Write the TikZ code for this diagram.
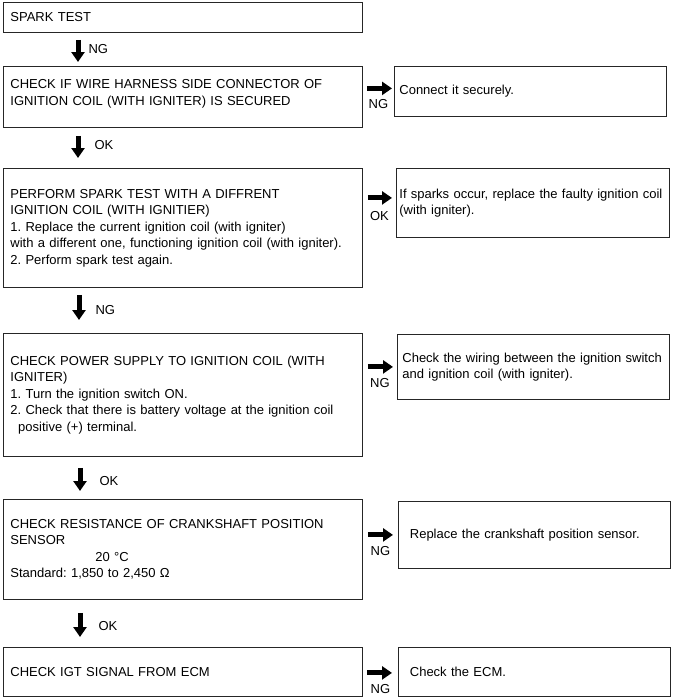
\documentclass[tikz,border=0pt]{standalone}
\usepackage{fontspec}
\setmainfont{Liberation Sans}
\usetikzlibrary{arrows.meta}
\usetikzlibrary{positioning}
\frenchspacing

\begin{document}
\begin{tikzpicture}[x=1pt, y=-1pt,
        stepbox/.style={draw=black!85, line width=0.8pt, anchor=north west, inner ysep=0pt, align=left, font=\fontsize{13}{16.5}\selectfont},
        leftbox/.style={stepbox, inner xsep=7pt, text width=345pt, minimum width=359pt},
        rightbox/.style={stepbox, inner xsep=5pt, text width=262pt, minimum width=272pt},
        blockarrow/.style={line width=5pt, -{Triangle[length=10pt, width=13pt]}},
        steplabel/.style={inner sep=0pt, font=\fontsize{13}{15.5}\selectfont}]
        \useasboundingbox (0,0) rectangle (673,697);
        % left column
        \node[leftbox, minimum height=30pt] (spark) at (3,2) {SPARK TEST};
        \node[leftbox, minimum height=61pt] (harness) at (3,66) {CHECK IF WIRE HARNESS SIDE CONNECTOR OF\\IGNITION COIL (WITH IGNITER) IS SECURED\\[-8pt]\mbox{}};
        \node[leftbox, minimum height=119pt] (swap) at (3,168) {PERFORM SPARK TEST WITH A DIFFRENT\\IGNITION COIL (WITH IGNITIER)\\1. Replace the current ignition coil (with igniter)\\with a different one, functioning ignition coil (with igniter).\\2. Perform spark test again.};
        \node[leftbox, minimum height=123pt] (power) at (3,333) {CHECK POWER SUPPLY TO IGNITION COIL (WITH\\IGNITER)\\1. Turn the ignition switch ON.\\2. Check that there is battery voltage at the ignition coil\\\hspace*{0.6em}positive (+) terminal.};
        \node[leftbox, minimum height=100pt] (ckp) at (3,499) {CHECK RESISTANCE OF CRANKSHAFT POSITION\\SENSOR\\\hspace*{85pt}20 °C\\Standard: 1,850 to 2,450 Ω};
        \node[leftbox, minimum height=49pt] (igt) at (3,647) {CHECK IGT SIGNAL FROM ECM};
        % right column
        \node[rightbox, minimum height=50pt] (harnessfix) at (394,66) {Connect it securely.};
        \node[rightbox, minimum height=69pt, minimum width=273pt, inner xsep=3pt, text width=267pt] (swapfix) at (396,168) {If sparks occur, replace the faulty ignition coil\\(with igniter).};
        \node[rightbox, minimum height=65pt] (powerfix) at (397,334) {Check the wiring between the ignition switch\\and ignition coil (with igniter).};
        \node[rightbox, minimum height=67pt, inner xsep=11pt, text width=249pt] (ckpfix) at (398,501) {Replace the crankshaft position sensor.};
        \node[rightbox, minimum height=49pt, inner xsep=11pt, text width=249pt] (igtfix) at (398,647) {Check the ECM.};
        % down arrows
        \draw[blockarrow, shorten <=7pt, shorten >=4pt] ([xshift=75pt]spark.south west) -- ([xshift=75pt]harness.north west) node[steplabel, midway, anchor=west, xshift=8pt] {NG};
        \draw[blockarrow, shorten <=8pt, shorten >=10pt] ([xshift=75pt]harness.south west) -- ([xshift=75pt]swap.north west) node[steplabel, midway, anchor=west, xshift=14pt, yshift=3pt] {OK};
        \draw[blockarrow, shorten <=7pt, shorten >=13pt] ([xshift=76pt]swap.south west) -- ([xshift=76pt]power.north west) node[steplabel, midway, anchor=west, xshift=14pt] {NG};
        \draw[blockarrow, shorten <=11pt, shorten >=8pt] ([xshift=77pt]power.south west) -- ([xshift=77pt]ckp.north west) node[steplabel, midway, anchor=west, xshift=17pt, yshift=-3pt] {OK};
        \draw[blockarrow, shorten <=13pt, shorten >=10pt] ([xshift=77pt]ckp.south west) -- ([xshift=77pt]igt.north west) node[steplabel, midway, anchor=west, xshift=16pt, yshift=-3pt] {OK};
        % side arrows
        \draw[blockarrow, shorten <=4pt, shorten >=2pt] ([yshift=3pt]harnessfix.west -| harness.east) -- ([yshift=3pt]harnessfix.west) node[steplabel, midway, yshift=-16pt] {NG};
        \draw[blockarrow, shorten <=5pt, shorten >=4pt] ([yshift=5pt]swapfix.west -| swap.east) -- ([yshift=5pt]swapfix.west) node[steplabel, midway, yshift=-18pt] {OK};
        \draw[blockarrow, shorten <=5pt, shorten >=4pt] (powerfix.west -| power.east) -- (powerfix.west) node[steplabel, midway, yshift=-16pt] {NG};
        \draw[blockarrow, shorten <=5pt, shorten >=5pt] (ckpfix.west -| ckp.east) -- (ckpfix.west) node[steplabel, midway, yshift=-16pt] {NG};
        \draw[blockarrow, shorten <=4pt, shorten >=6pt] ([yshift=-1pt]igtfix.west -| igt.east) -- ([yshift=-1pt]igtfix.west) node[steplabel, midway, yshift=-16pt] {NG};
\end{tikzpicture}
\end{document}
